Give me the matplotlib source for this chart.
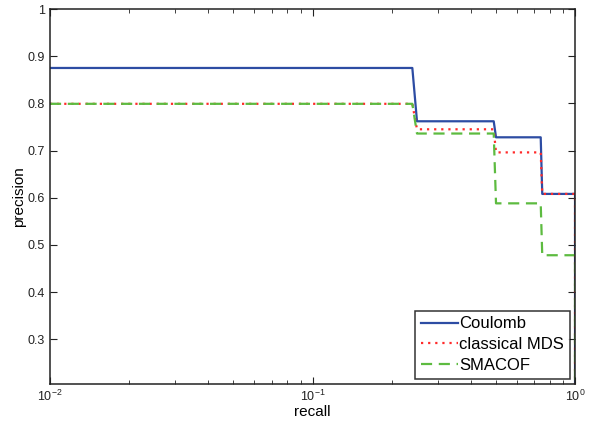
import matplotlib
matplotlib.use("Agg")
import matplotlib.pyplot as plt
from matplotlib.ticker import LogLocator, NullFormatter, FixedLocator

plt.rcParams['font.family'] = ['Liberation Sans', 'DejaVu Sans']
plt.rcParams['mathtext.fontset'] = 'custom'
plt.rcParams['mathtext.rm'] = 'Liberation Sans'
plt.rcParams['mathtext.it'] = 'Liberation Sans'
plt.rcParams['mathtext.default'] = 'regular'

recall = [0.01, 0.24, 0.25, 0.49, 0.50, 0.74, 0.75, 0.99, 1.0, 1.0]
coulomb = [0.875, 0.875, 0.762, 0.762, 0.728, 0.728, 0.608, 0.608, 0.608, 0.20]
classical_mds = [0.799, 0.799, 0.745, 0.745, 0.696, 0.696, 0.608, 0.608, 0.608, 0.20]
smacof = [0.799, 0.799, 0.736, 0.736, 0.588, 0.588, 0.478, 0.478, 0.478, 0.20]

yticks = [0.3, 0.4, 0.5, 0.6, 0.7, 0.8, 0.9, 1.0]
ytick_labels = ["0.3", "0.4", "0.5", "0.6", "0.7", "0.8", "0.9", "1"]

fig = plt.figure(figsize=(5.91, 4.23), dpi=100)
ax = fig.add_axes([0.0846, 0.0922, 0.8884, 0.8865])

ax.plot(recall, coulomb, color="#2d4ca3", lw=1.6, ls="-", label="Coulomb")
ax.plot(recall, classical_mds, color="#ff2a2a", lw=1.6, ls=(0, (1, 2.2)), label="classical MDS")
ax.plot(recall, smacof, color="#5dbb40", lw=1.6, ls=(0, (5, 3)), label="SMACOF")

ax.set_xscale("log")
ax.set_xlim(0.01, 1.0)
ax.set_ylim(0.205, 1.0)
ax.set_yticks(yticks)
ax.set_yticklabels(ytick_labels)
ax.xaxis.set_major_locator(FixedLocator([0.01, 0.1, 1.0]))
ax.set_xticklabels([r"$10^{-2}$", r"$10^{-1}$", r"$10^{0}$"])
ax.xaxis.set_minor_locator(LogLocator(base=10, subs=range(2, 10)))
ax.xaxis.set_minor_formatter(NullFormatter())

ax.tick_params(which="both", direction="in", top=True, right=True, labelsize=9, colors="#222222")
ax.tick_params(which="major", length=5, width=0.8)
ax.tick_params(which="minor", length=3, width=0.6)
for s in ax.spines.values():
    s.set_linewidth(1.1)
    s.set_color("#222222")

ax.set_xlabel("recall", fontsize=11, labelpad=1)
ax.set_ylabel("precision", fontsize=11, labelpad=1)

leg = ax.legend(loc="lower right", fontsize=12, frameon=True, fancybox=False,
                edgecolor="black", handlelength=2.2, borderaxespad=0.3,
                labelspacing=0.35, handletextpad=0.1, borderpad=0.35)
leg.get_frame().set_linewidth(1.1)

fig.savefig("out.png", dpi=100)
